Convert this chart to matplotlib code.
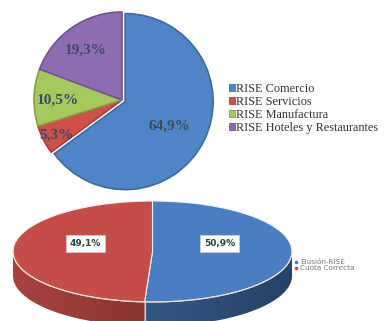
import numpy as np
import matplotlib
matplotlib.use("Agg")
import matplotlib.pyplot as plt
from matplotlib.patches import Patch, Polygon
from matplotlib.lines import Line2D
from matplotlib.colors import to_rgb

# RISE contributors by sector
sectors = ["RISE Comercio", "RISE Servicios", "RISE Manufactura",
           "RISE Hoteles y Restaurantes"]
sector_pct = [64.9, 5.3, 10.5, 19.3]
sector_colors = ["#4f85c6", "#cf4f4a", "#a6c85c", "#8d6cb2"]

# evasion vs correct quota
quota_labels = ["Elusión-RISE", "Cuota Correcta"]
quota_pct = [50.9, 49.1]
quota_colors = ["#4a7ec0", "#c44d48"]

W, H = 384, 321
fig = plt.figure(figsize=(W / 100, H / 100), dpi=100)


def px_axes(left, top, width, height):
    # axes placed by pixel box (measured from the top-left corner)
    return fig.add_axes([left / W, (H - top - height) / H, width / W, height / H])


def shade(c, f):
    r, g, b = to_rgb(c)
    return (r * f, g * f, b * f)


# ---- top pie ----
ax1 = px_axes(34, 12, 176, 176)
wedges, _ = ax1.pie(sector_pct, colors=sector_colors, startangle=90,
                    counterclock=False, radius=1.0,
                    explode=[0.04, 0, 0, 0])
for w, c in zip(wedges, sector_colors):
    w.set_edgecolor(shade(c, 0.8))
    w.set_linewidth(1.2)
ax1.set_xlim(-1, 1)
ax1.set_ylim(-1, 1)
ax1.set_aspect("equal")
ax1.axis("off")

label_r = [0.60, 0.83, 0.73, 0.72]
for w, p, r in zip(wedges, sector_pct, label_r):
    mid = np.deg2rad((w.theta1 + w.theta2) / 2)
    ax1.text(r * np.cos(mid), r * np.sin(mid) - 0.02,
             f"{p:.1f}%".replace(".", ","),
             ha="center", va="center", fontsize=11, fontweight="bold",
             family="Liberation Serif", color="#3d4a63")

handles = [Patch(facecolor=c, edgecolor=shade(c, 0.7), linewidth=0.5)
           for c in sector_colors]
fig.legend(handles, sectors, loc="upper left",
           bbox_to_anchor=(229 / W, 1 - 83 / H), frameon=False,
           prop=dict(family="Liberation Serif", size=8.8),
           handlelength=0.45, handleheight=0.55, handletextpad=0.15,
           labelspacing=0.07, borderpad=0, borderaxespad=0,
           labelcolor="#333333")

# ---- bottom pie with a side wall ----
a, b = 139.5, 50.5          # ellipse half axes in pixels
cx, cy = 152.5, 251.5
depth = 0.48                # side height in units of b
ax2 = px_axes(cx - 1.2 * a, cy - 1.2 * b, 2.4 * a, 2.8 * b)
ax2.axis("off")

bounds = 90 - 360 * np.concatenate([[0], np.cumsum(quota_pct)]) / 100.0

# side wall: one polygon per slice over the front half, filled with a
# horizontal gradient through a clipped image
xs = np.linspace(-1, 1, 256)
for i, c in enumerate(quota_colors):
    lo, hi = sorted([bounds[i], bounds[i + 1]])
    t = np.linspace(-180, 0, 721)
    keep = ((t >= lo) & (t <= hi)) | ((t + 360 >= lo) & (t + 360 <= hi))
    t = np.deg2rad(t[keep])
    if len(t) < 2:
        continue
    top = np.column_stack([np.cos(t), np.sin(t)])
    bot = top[::-1] - [0, depth]
    poly = Polygon(np.vstack([top, bot]), closed=True, facecolor="none",
                   edgecolor="none")
    ax2.add_patch(poly)
    f = 0.86 - 0.34 * (xs + 1) / 2
    grad = np.array([shade(c, v) for v in f])[None, :, :]
    im = ax2.imshow(grad, extent=(-1, 1, -1 - depth, 0), aspect="auto",
                    interpolation="bilinear", zorder=1)
    im.set_clip_path(poly)

# seam on the side wall
front = np.deg2rad(bounds[1])
ax2.plot([np.cos(front)] * 2, [np.sin(front), np.sin(front) - depth],
         color="#e6e6f0", lw=0.8, alpha=0.8, zorder=2)

w2, _ = ax2.pie(quota_pct, colors=quota_colors, startangle=90,
                counterclock=False, radius=1.0,
                wedgeprops=dict(edgecolor="#f2f2f2", linewidth=0.8,
                                zorder=3))
ax2.set_xlim(-1.2, 1.2)
ax2.set_ylim(-1.6, 1.2)
ax2.set_aspect("auto")

# light rim along the front edge
rim = np.deg2rad(np.linspace(-180, 0, 200))
ax2.plot(np.cos(rim), np.sin(rim), color="#f4d8d6", lw=0.8, alpha=0.8,
         zorder=4)

label_pos = [0.48, 0.48]
for w, p, r in zip(w2, quota_pct, label_pos):
    mid = np.deg2rad((w.theta1 + w.theta2) / 2)
    ax2.text(r * np.cos(mid), 0.16, f"{p:.1f}%".replace(".", ","),
             ha="center", va="center", fontsize=6.5, fontweight="bold",
             color="#2f4040", zorder=5,
             bbox=dict(boxstyle="square,pad=0.45", facecolor="white",
                       edgecolor="#d0d0d0", linewidth=0.5))

qh = [Line2D([], [], marker="o", linestyle="none", markersize=1.6,
             markerfacecolor=c, markeredgecolor=c) for c in quota_colors]
fig.legend(qh, quota_labels, loc="upper left",
           bbox_to_anchor=(294 / W, 1 - 259 / H), frameon=False,
           prop=dict(size=5.2), handlelength=0.5, handletextpad=0.3,
           labelspacing=0.0, borderpad=0, borderaxespad=0,
           labelcolor="#7a7a7a")

fig.savefig("out.png", dpi=100)
